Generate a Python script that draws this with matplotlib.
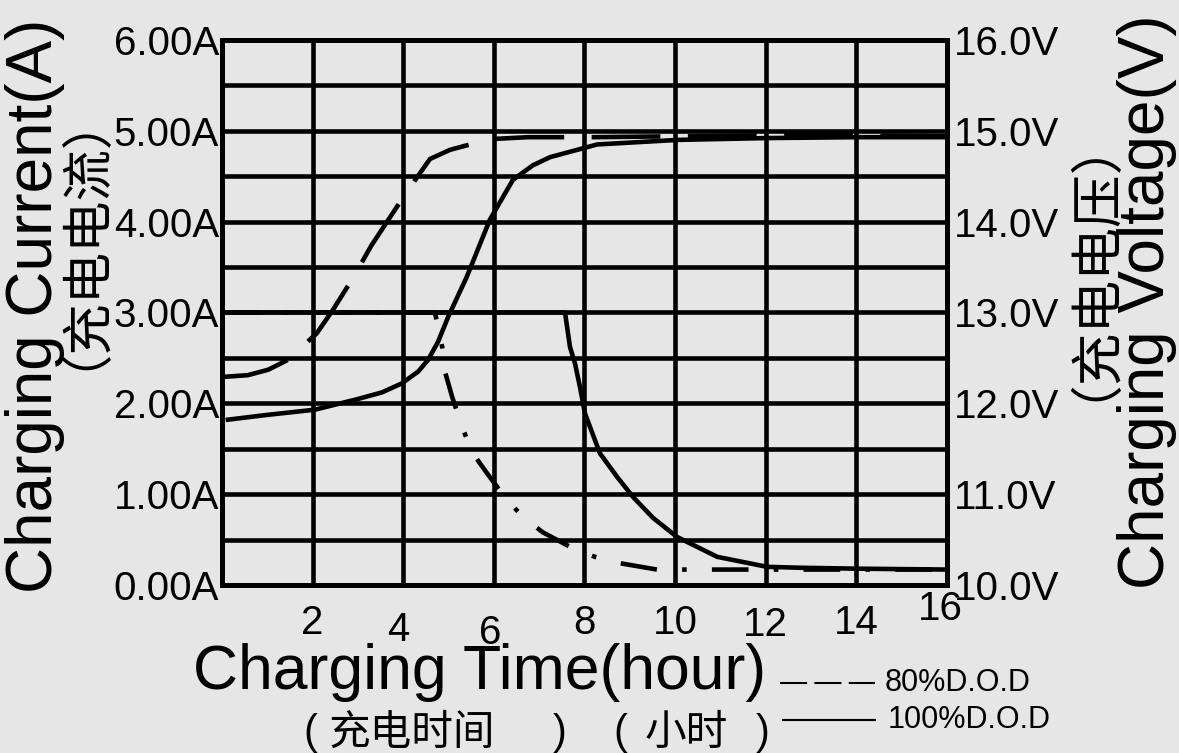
import numpy as np
import matplotlib
matplotlib.use("Agg")
import matplotlib.pyplot as plt
from matplotlib.lines import Line2D
from matplotlib.transforms import ScaledTranslation

# charging voltage, 80% D.O.D (hours, volts)
v80_hours = [0, 0.57, 1.02, 1.46, 2.09, 2.45, 2.89, 3.30, 3.71, 4.11, 4.59, 5.03, 5.40, 5.98, 6.75,
             8.23, 10, 12, 14, 16]
v80_volts = [12.29, 12.31, 12.37, 12.48, 12.77, 13.03, 13.38, 13.74, 14.05, 14.35, 14.69, 14.79,
             14.84, 14.91, 14.93, 14.93, 14.94, 14.95, 14.95, 14.94]

# charging voltage, 100% D.O.D
v100_hours = [0.13, 0.95, 2.05, 2.94, 3.53, 3.97, 4.33, 4.55, 4.77, 4.99, 5.40, 5.91, 6.42, 6.86,
              7.24, 8.28, 10.06, 12, 14, 16]
v100_volts = [11.82, 11.87, 11.93, 12.04, 12.12, 12.22, 12.35, 12.48, 12.68, 12.95, 13.39, 14.02,
              14.46, 14.62, 14.71, 14.85, 14.90, 14.92, 14.93, 14.93]

# charging current, 80% D.O.D (hours, amps)
i80_hours = [0, 4.70, 4.86, 4.92, 5.08, 5.30, 5.52, 5.85, 6.25, 6.64, 7.08, 7.72, 8.23, 8.78, 9.60,
             10.4, 12, 14, 16]
i80_amps = [3.0, 3.0, 2.62, 2.35, 2.07, 1.74, 1.46, 1.23, 0.96, 0.75, 0.58, 0.41, 0.31, 0.24, 0.17,
            0.17, 0.17, 0.17, 0.17]

# charging current, 100% D.O.D
i100_hours = [0, 7.57, 7.68, 7.79, 7.90, 8.01, 8.34, 8.72, 9.07, 9.51, 10.04, 10.93, 12.03, 12.76, 14, 16]
i100_amps = [3.0, 3.0, 2.62, 2.44, 2.18, 1.89, 1.45, 1.19, 0.97, 0.74, 0.53, 0.31, 0.20, 0.19, 0.18, 0.17]

x_ticks = [2, 4, 6, 8, 10, 12, 14, 16]
amp_ticks = [0, 1, 2, 3, 4, 5, 6]
amp_labels = ["0.00A", "1.00A", "2.00A", "3.00A", "4.00A", "5.00A", "6.00A"]
volt_ticks = [10, 11, 12, 13, 14, 15, 16]
volt_labels = ["10.0V", "11.0V", "12.0V", "13.0V", "14.0V", "15.0V", "16.0V"]

bg = "#e6e6e6"
latin = ["Liberation Sans", "DejaVu Sans"]
cjk = ["Noto Sans CJK SC", "DejaVu Sans"]

fig = plt.figure(figsize=(11.79, 7.53), dpi=100, facecolor=bg)
ax = fig.add_axes([0.1883, 0.2231, 0.8032 - 0.1883, 0.9469 - 0.2231])
ax.set_facecolor(bg)
ax.set_xlim(0, 16)
ax.set_ylim(0, 6)

ax.set_xticks(x_ticks)
ax.set_xticklabels([str(t) for t in x_ticks], fontfamily=latin, fontsize=29)
ax.set_yticks(amp_ticks)
ax.set_yticklabels(amp_labels, fontfamily=latin, fontsize=29)
ax.set_yticks(np.arange(0.5, 6, 1.0), minor=True)
ax.tick_params(which="both", length=0)
ax.tick_params(axis="x", pad=14)
ax.tick_params(axis="y", pad=2)
ax.grid(True, which="both", color="black", linewidth=3.3)
ax.set_axisbelow(True)
for sp in ax.spines.values():
    sp.set_linewidth(3.6)

# the x labels in the scan sit a bit unevenly
offsets = [(0, 0), (-5, -7), (-4, -10), (0, 0), (0, 0), (0, -2), (0, 0), (-7, 14)]
for lab, (dx, dy) in zip(ax.get_xticklabels(), offsets):
    lab.set_transform(lab.get_transform() + ScaledTranslation(dx / 100, dy / 100, fig.dpi_scale_trans))

ax2 = ax.twinx()
ax2.set_ylim(10, 16)
ax2.set_yticks(volt_ticks)
ax2.set_yticklabels(volt_labels, fontfamily=latin, fontsize=29)
ax2.tick_params(length=0, pad=5)
for sp in ax2.spines.values():
    sp.set_linewidth(3.6)

lw = 3.3
ax2.plot(v80_hours, v80_volts, color="black", lw=lw, linestyle=(0, (15, 6)))
ax2.plot(v100_hours, v100_volts, color="black", lw=lw)
ax.plot(i80_hours, i80_amps, color="black", lw=lw, linestyle=(0, (8, 5.5, 1, 5.5)))
ax.plot(i100_hours, i100_amps, color="black", lw=lw)

# axis titles
fig.text(0.0297, 0.5936, "Charging Current(A)", rotation=90, ha="center", va="center",
         fontfamily=latin, fontsize=46)
fig.text(0.0483, 0.713, "（充电电流）", rotation=90, ha="center", va="center",
         fontfamily=cjk, fontsize=37)
fig.text(0.973, 0.599, "Charging Voltage(V)", rotation=90, ha="center", va="center",
         fontfamily=latin, fontsize=46)
fig.text(0.9033, 0.678, "（充电电压）", rotation=90, ha="center", va="center",
         fontfamily=cjk, fontsize=38)
fig.text(0.407, 0.1064, "Charging Time(hour)", ha="center", va="center",
         fontfamily=latin, fontsize=45)

# second line under the x title, pieces placed as in the scan
pieces = [("(", 310, latin), ("充电时间", 412, cjk), (")", 560, latin),
          ("(", 620, latin), ("小时", 686, cjk), (")", 763, latin)]
for txt, px, fam in pieces:
    fig.text(px / 1179, 0.026, txt, ha="center", va="center", fontfamily=fam, fontsize=30)

# hand drawn key
fig.add_artist(Line2D([0.6616, 0.742], [0.093, 0.093], color="black", lw=1.5,
                      linestyle=(0, (13, 3.5))))
fig.add_artist(Line2D([0.664, 0.742], [0.044, 0.044], color="black", lw=1.5))
fig.text(0.7506, 0.093, "80%D.O.D", ha="left", va="center", fontfamily=latin, fontsize=22)
fig.text(0.753, 0.044, "100%D.O.D", ha="left", va="center", fontfamily=latin, fontsize=22)

fig.savefig("out.png", dpi=100, facecolor=bg)
